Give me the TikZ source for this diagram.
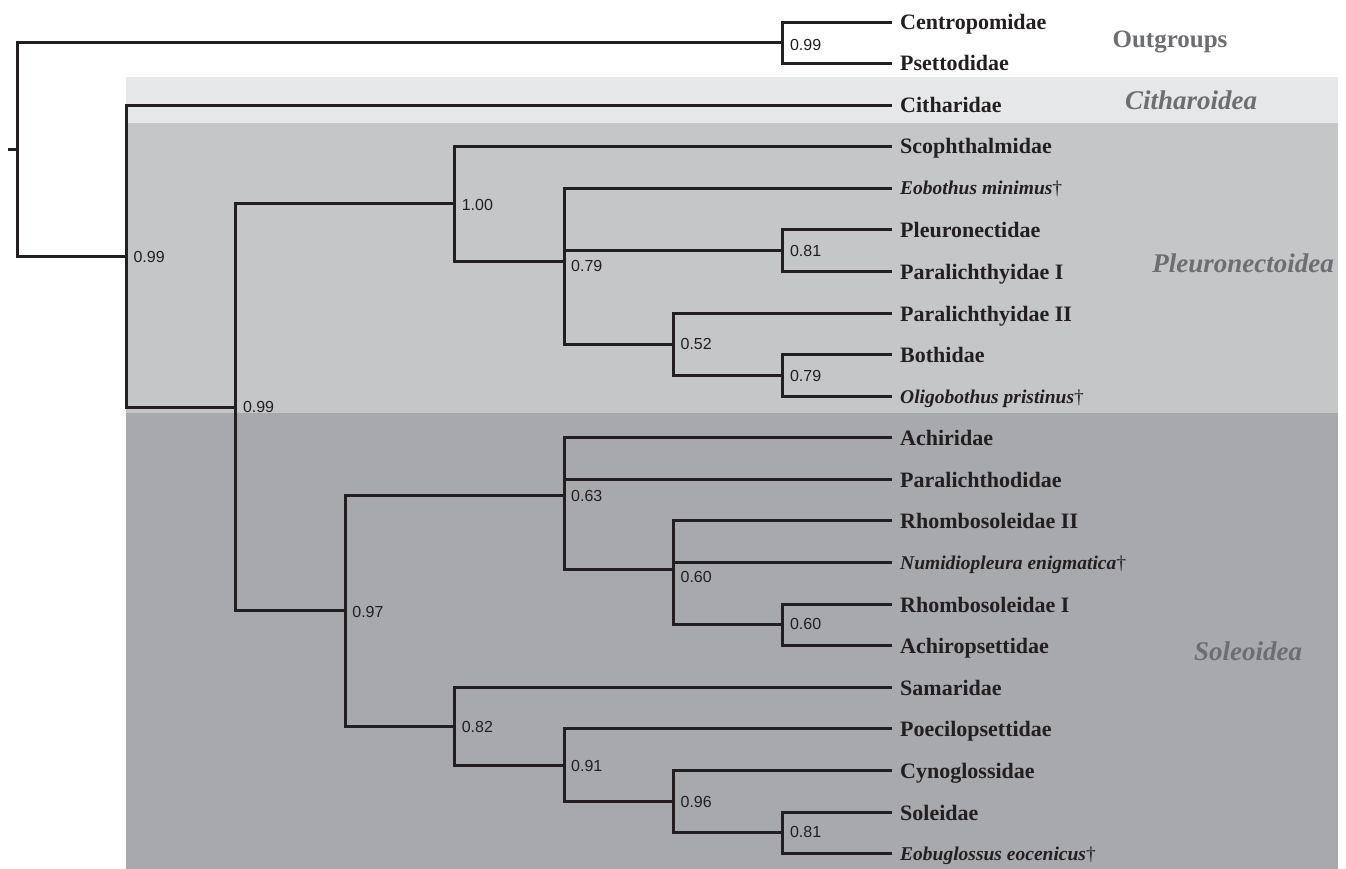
\documentclass[tikz,border=0pt]{standalone}
\usepackage{fontspec}
\usetikzlibrary{calc}
\setmainfont{Liberation Serif}
\newfontfamily\numfont{Liberation Sans}
\begin{document}
\begin{tikzpicture}[x=1pt,y=-1pt,
  branch/.style={draw=treeline, line width=3pt, line join=miter},
  leaflab/.style={anchor=base west, inner sep=0pt, font=\fontsize{22}{24}\selectfont\bfseries, text=treeline},
  fossil/.style={anchor=base west, inner sep=0pt, font=\fontsize{19.5}{22}\selectfont\bfseries\itshape, text=treeline},
  support/.style={anchor=west, inner sep=0pt, font=\fontsize{16}{18}\selectfont\numfont, text=treeline},
  grouplab/.style={anchor=base, inner sep=0pt, text=groupgray, font=\fontsize{27}{30}\selectfont\bfseries\itshape},
]
\definecolor{treeline}{HTML}{231F20}
\definecolor{groupgray}{HTML}{6D6E71}
\definecolor{bandA}{HTML}{E6E7E8}
\definecolor{bandB}{HTML}{C5C6C8}
\definecolor{bandC}{HTML}{A7A9AC}
\useasboundingbox (0,0) rectangle (1346,869);
% background bands
\fill[bandA] (126,77) rectangle (1338,123);
\fill[bandB] (126,123) rectangle (1338,413);
\fill[bandC] (126,413) rectangle (1338,869);
% leaf tips
\coordinate (l0) at (892,22.5);
\coordinate (l1) at (892,63.5);
\coordinate (l2) at (892,105.5);
\coordinate (l3) at (892,146.5);
\coordinate (l4) at (892,188.5);
\coordinate (l5) at (892,229.5);
\coordinate (l6) at (892,271.5);
\coordinate (l7) at (892,313.5);
\coordinate (l8) at (892,354.5);
\coordinate (l9) at (892,396.5);
\coordinate (l10) at (892,437.5);
\coordinate (l11) at (892,479.5);
\coordinate (l12) at (892,520.5);
\coordinate (l13) at (892,562.5);
\coordinate (l14) at (892,604.5);
\coordinate (l15) at (892,645.5);
\coordinate (l16) at (892,687.5);
\coordinate (l17) at (892,728.5);
\coordinate (l18) at (892,770.5);
\coordinate (l19) at (892,812.5);
\coordinate (l20) at (892,853.5);
% internal nodes
\coordinate (stub) at (8,149.5);
\coordinate (root) at (17.5,149.5);
\coordinate (out) at (782.5,42.5);
\coordinate (ing) at (126.5,256.5);
\coordinate (nA) at (235.5,407.5);
\coordinate (nB) at (454.5,203.5);
\coordinate (nD) at (564.5,261.5);
\coordinate (nE) at (782.5,250.5);
\coordinate (nF) at (673.5,344.5);
\coordinate (nG) at (782.5,375.5);
\coordinate (nC) at (345.5,610.5);
\coordinate (nH) at (564.5,495.5);
\coordinate (nI) at (673.5,569.5);
\coordinate (nJ) at (782.5,624.5);
\coordinate (nK) at (454.5,726.5);
\coordinate (nL) at (564.5,765.5);
\coordinate (nM) at (673.5,801.5);
\coordinate (nN) at (782.5,832.5);
% branches
\draw[branch] (stub) -- (root);
\foreach \p/\c in {root/out, root/ing, out/l0, out/l1, ing/l2, ing/nA,
  nA/nB, nA/nC, nB/l3, nB/nD, nD/l4, nD/nE, nD/nF, nE/l5, nE/l6,
  nF/l7, nF/nG, nG/l8, nG/l9, nC/nH, nC/nK, nH/l10, nH/l11, nH/nI,
  nI/l12, nI/l13, nI/nJ, nJ/l14, nJ/l15, nK/l16, nK/nL, nL/l17, nL/nM,
  nM/l18, nM/nN, nN/l19, nN/l20}
  \draw[branch] (\p) |- (\c);
% leaf labels
\node[leaflab] (t0) at ($(l0)+(8,7.5)$) {Centropomidae};
\node[leaflab] (t1) at ($(l1)+(8,7.5)$) {Psettodidae};
\node[leaflab] (t2) at ($(l2)+(8,7.5)$) {Citharidae};
\node[leaflab] (t3) at ($(l3)+(8,7.5)$) {Scophthalmidae};
\node[fossil] (t4) at ($(l4)+(8,6.5)$) {Eobothus minimus\upshape\mdseries†};
\node[leaflab] (t5) at ($(l5)+(8,7.5)$) {Pleuronectidae};
\node[leaflab] (t6) at ($(l6)+(8,7.5)$) {Paralichthyidae I};
\node[leaflab] (t7) at ($(l7)+(8,7.5)$) {Paralichthyidae II};
\node[leaflab] (t8) at ($(l8)+(8,7.5)$) {Bothidae};
\node[fossil] (t9) at ($(l9)+(8,6.5)$) {Oligobothus pristinus\upshape\mdseries†};
\node[leaflab] (t10) at ($(l10)+(8,7.5)$) {Achiridae};
\node[leaflab] (t11) at ($(l11)+(8,7.5)$) {Paralichthodidae};
\node[leaflab] (t12) at ($(l12)+(8,7.5)$) {Rhombosoleidae II};
\node[fossil] (t13) at ($(l13)+(8,6.5)$) {Numidiopleura enigmatica\upshape\mdseries†};
\node[leaflab] (t14) at ($(l14)+(8,7.5)$) {Rhombosoleidae I};
\node[leaflab] (t15) at ($(l15)+(8,7.5)$) {Achiropsettidae};
\node[leaflab] (t16) at ($(l16)+(8,7.5)$) {Samaridae};
\node[leaflab] (t17) at ($(l17)+(8,7.5)$) {Poecilopsettidae};
\node[leaflab] (t18) at ($(l18)+(8,7.5)$) {Cynoglossidae};
\node[leaflab] (t19) at ($(l19)+(8,7.5)$) {Soleidae};
\node[fossil] (t20) at ($(l20)+(8,6.5)$) {Eobuglossus eocenicus\upshape\mdseries†};
% support values
\node[support] (s0) at (789.8,45) {0.99};
\node[support] (s1) at (133.4,256.7) {0.99};
\node[support] (s2) at (242.8,406.7) {0.99};
\node[support] (s3) at (461.6,205) {1.00};
\node[support] (s4) at (571,265.7) {0.79};
\node[support] (s5) at (789.8,250.7) {0.81};
\node[support] (s6) at (680.4,344.3) {0.52};
\node[support] (s7) at (789.8,375.7) {0.79};
\node[support] (s8) at (352.2,612) {0.97};
\node[support] (s9) at (571,495.7) {0.63};
\node[support] (s10) at (680.4,576.7) {0.60};
\node[support] (s11) at (789.8,624.3) {0.60};
\node[support] (s12) at (461.6,726.7) {0.82};
\node[support] (s13) at (571,765.7) {0.91};
\node[support] (s14) at (680.4,801.7) {0.96};
\node[support] (s15) at (789.8,832.3) {0.81};
% group labels
\node[grouplab, font=\fontsize{25}{27}\selectfont\bfseries] (g0) at (1170,48) {Outgroups};
\node[grouplab] (g1) at (1191,110) {Citharoidea};
\node[grouplab] (g2) at (1243,272) {Pleuronectoidea};
\node[grouplab] (g3) at (1248,660) {Soleoidea};
\end{tikzpicture}
\end{document}
